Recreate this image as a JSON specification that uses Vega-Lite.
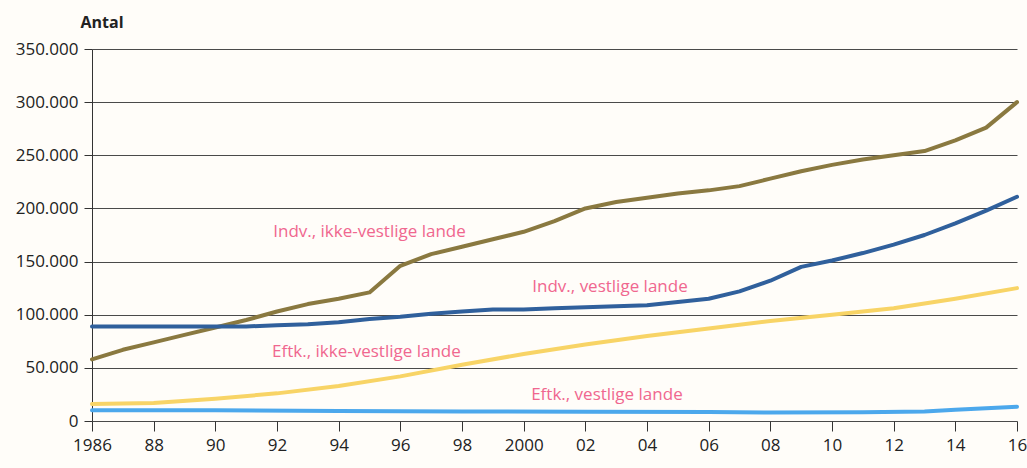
{
  "$schema": "https://vega.github.io/schema/vega-lite/v6.json",
  "autosize": "none",
  "width": 925,
  "height": 372,
  "padding": {"left": 92, "top": 49, "right": 10, "bottom": 47},
  "background": "#fffdf9",
  "config": {
    "locale": {"number": {"decimal": ",", "thousands": ".", "grouping": [3], "currency": ["", " kr."]}},
    "view": {"stroke": null},
    "font": "Open Sans, sans-serif"
  },
  "datasets": {
    "lines": [
      {"year": 1986, "value": 58000, "series": "Indv., ikke-vestlige lande"},
      {"year": 1987, "value": 67000, "series": "Indv., ikke-vestlige lande"},
      {"year": 1988, "value": 74000, "series": "Indv., ikke-vestlige lande"},
      {"year": 1989, "value": 81000, "series": "Indv., ikke-vestlige lande"},
      {"year": 1990, "value": 88000, "series": "Indv., ikke-vestlige lande"},
      {"year": 1991, "value": 95000, "series": "Indv., ikke-vestlige lande"},
      {"year": 1992, "value": 103000, "series": "Indv., ikke-vestlige lande"},
      {"year": 1993, "value": 110000, "series": "Indv., ikke-vestlige lande"},
      {"year": 1994, "value": 115000, "series": "Indv., ikke-vestlige lande"},
      {"year": 1995, "value": 121000, "series": "Indv., ikke-vestlige lande"},
      {"year": 1996, "value": 146000, "series": "Indv., ikke-vestlige lande"},
      {"year": 1997, "value": 157000, "series": "Indv., ikke-vestlige lande"},
      {"year": 1998, "value": 164000, "series": "Indv., ikke-vestlige lande"},
      {"year": 1999, "value": 171000, "series": "Indv., ikke-vestlige lande"},
      {"year": 2000, "value": 178000, "series": "Indv., ikke-vestlige lande"},
      {"year": 2001, "value": 188000, "series": "Indv., ikke-vestlige lande"},
      {"year": 2002, "value": 200000, "series": "Indv., ikke-vestlige lande"},
      {"year": 2003, "value": 206000, "series": "Indv., ikke-vestlige lande"},
      {"year": 2004, "value": 210000, "series": "Indv., ikke-vestlige lande"},
      {"year": 2005, "value": 214000, "series": "Indv., ikke-vestlige lande"},
      {"year": 2006, "value": 217000, "series": "Indv., ikke-vestlige lande"},
      {"year": 2007, "value": 221000, "series": "Indv., ikke-vestlige lande"},
      {"year": 2008, "value": 228000, "series": "Indv., ikke-vestlige lande"},
      {"year": 2009, "value": 235000, "series": "Indv., ikke-vestlige lande"},
      {"year": 2010, "value": 241000, "series": "Indv., ikke-vestlige lande"},
      {"year": 2011, "value": 246000, "series": "Indv., ikke-vestlige lande"},
      {"year": 2012, "value": 250000, "series": "Indv., ikke-vestlige lande"},
      {"year": 2013, "value": 254000, "series": "Indv., ikke-vestlige lande"},
      {"year": 2014, "value": 264000, "series": "Indv., ikke-vestlige lande"},
      {"year": 2015, "value": 276000, "series": "Indv., ikke-vestlige lande"},
      {"year": 2016, "value": 300000, "series": "Indv., ikke-vestlige lande"},

      {"year": 1986, "value": 89000, "series": "Indv., vestlige lande"},
      {"year": 1988, "value": 89000, "series": "Indv., vestlige lande"},
      {"year": 1990, "value": 89000, "series": "Indv., vestlige lande"},
      {"year": 1991, "value": 89000, "series": "Indv., vestlige lande"},
      {"year": 1992, "value": 90000, "series": "Indv., vestlige lande"},
      {"year": 1993, "value": 91000, "series": "Indv., vestlige lande"},
      {"year": 1994, "value": 93000, "series": "Indv., vestlige lande"},
      {"year": 1995, "value": 96000, "series": "Indv., vestlige lande"},
      {"year": 1996, "value": 98000, "series": "Indv., vestlige lande"},
      {"year": 1997, "value": 101000, "series": "Indv., vestlige lande"},
      {"year": 1998, "value": 103000, "series": "Indv., vestlige lande"},
      {"year": 1999, "value": 105000, "series": "Indv., vestlige lande"},
      {"year": 2000, "value": 105000, "series": "Indv., vestlige lande"},
      {"year": 2001, "value": 106000, "series": "Indv., vestlige lande"},
      {"year": 2002, "value": 107000, "series": "Indv., vestlige lande"},
      {"year": 2003, "value": 108000, "series": "Indv., vestlige lande"},
      {"year": 2004, "value": 109000, "series": "Indv., vestlige lande"},
      {"year": 2005, "value": 112000, "series": "Indv., vestlige lande"},
      {"year": 2006, "value": 115000, "series": "Indv., vestlige lande"},
      {"year": 2007, "value": 122000, "series": "Indv., vestlige lande"},
      {"year": 2008, "value": 132000, "series": "Indv., vestlige lande"},
      {"year": 2009, "value": 145000, "series": "Indv., vestlige lande"},
      {"year": 2010, "value": 151000, "series": "Indv., vestlige lande"},
      {"year": 2011, "value": 158000, "series": "Indv., vestlige lande"},
      {"year": 2012, "value": 166000, "series": "Indv., vestlige lande"},
      {"year": 2013, "value": 175000, "series": "Indv., vestlige lande"},
      {"year": 2014, "value": 186000, "series": "Indv., vestlige lande"},
      {"year": 2015, "value": 198000, "series": "Indv., vestlige lande"},
      {"year": 2016, "value": 211000, "series": "Indv., vestlige lande"},

      {"year": 1986, "value": 16000, "series": "Eftk., ikke-vestlige lande"},
      {"year": 1988, "value": 17000, "series": "Eftk., ikke-vestlige lande"},
      {"year": 1990, "value": 21000, "series": "Eftk., ikke-vestlige lande"},
      {"year": 1992, "value": 26000, "series": "Eftk., ikke-vestlige lande"},
      {"year": 1994, "value": 33000, "series": "Eftk., ikke-vestlige lande"},
      {"year": 1996, "value": 42000, "series": "Eftk., ikke-vestlige lande"},
      {"year": 1998, "value": 53000, "series": "Eftk., ikke-vestlige lande"},
      {"year": 2000, "value": 63000, "series": "Eftk., ikke-vestlige lande"},
      {"year": 2002, "value": 72000, "series": "Eftk., ikke-vestlige lande"},
      {"year": 2004, "value": 80000, "series": "Eftk., ikke-vestlige lande"},
      {"year": 2006, "value": 87000, "series": "Eftk., ikke-vestlige lande"},
      {"year": 2008, "value": 94000, "series": "Eftk., ikke-vestlige lande"},
      {"year": 2010, "value": 100000, "series": "Eftk., ikke-vestlige lande"},
      {"year": 2012, "value": 106000, "series": "Eftk., ikke-vestlige lande"},
      {"year": 2014, "value": 115000, "series": "Eftk., ikke-vestlige lande"},
      {"year": 2016, "value": 125000, "series": "Eftk., ikke-vestlige lande"},

      {"year": 1986, "value": 10000, "series": "Eftk., vestlige lande"},
      {"year": 1990, "value": 10000, "series": "Eftk., vestlige lande"},
      {"year": 1994, "value": 9500, "series": "Eftk., vestlige lande"},
      {"year": 1998, "value": 9000, "series": "Eftk., vestlige lande"},
      {"year": 2002, "value": 8800, "series": "Eftk., vestlige lande"},
      {"year": 2006, "value": 8500, "series": "Eftk., vestlige lande"},
      {"year": 2008, "value": 8000, "series": "Eftk., vestlige lande"},
      {"year": 2011, "value": 8300, "series": "Eftk., vestlige lande"},
      {"year": 2013, "value": 9000, "series": "Eftk., vestlige lande"},
      {"year": 2014, "value": 10500, "series": "Eftk., vestlige lande"},
      {"year": 2016, "value": 13500, "series": "Eftk., vestlige lande"}
    ],
    "labels": [
      {"year": 1995.0, "value": 178000, "text": "Indv., ikke-vestlige lande"},
      {"year": 2002.8, "value": 126000, "text": "Indv., vestlige lande"},
      {"year": 1994.9, "value": 65000, "text": "Eftk., ikke-vestlige lande"},
      {"year": 2002.7, "value": 24000, "text": "Eftk., vestlige lande"}
    ]
  },
  "layer": [
    {
      "data": {"name": "lines"},
      "mark": {"type": "line", "strokeWidth": 4, "strokeCap": "round", "strokeJoin": "round"},
      "encoding": {
        "x": {
          "field": "year", "type": "quantitative",
          "scale": {"domain": [1986, 2016], "nice": false, "zero": false},
          "axis": {
            "title": null,
            "values": [1986, 1988, 1990, 1992, 1994, 1996, 1998, 2000, 2002, 2004, 2006, 2008, 2010, 2012, 2014, 2016],
            "labelExpr": "(datum.value == 1986 || datum.value == 2000) ? toString(datum.value) : slice(toString(datum.value), 2)",
            "labelFontSize": 17, "labelColor": "#222", "labelPadding": 6,
            "domain": false, "tickColor": "#333", "tickSize": 10,
            "grid": false, "labelFlush": false
          }
        },
        "y": {
          "field": "value", "type": "quantitative",
          "scale": {"domain": [0, 350000], "nice": false},
          "axis": {
            "title": "Antal", "titleAngle": 0, "titleAlign": "left", "titleBaseline": "bottom",
            "titleX": -12, "titleY": -19, "titleFontSize": 16, "titleFontWeight": "bold", "titleColor": "#222",
            "values": [0, 50000, 100000, 150000, 200000, 250000, 300000, 350000],
            "format": ",d",
            "labelFontSize": 17, "labelColor": "#222", "labelPadding": 6,
            "domainColor": "#333", "domainWidth": 1,
            "tickColor": "#333", "tickSize": 8,
            "grid": true, "gridColor": "#4a4a4a", "gridWidth": 1
          }
        },
        "color": {
          "field": "series", "type": "nominal", "legend": null,
          "scale": {
            "domain": ["Indv., ikke-vestlige lande", "Indv., vestlige lande", "Eftk., ikke-vestlige lande", "Eftk., vestlige lande"],
            "range": ["#8a7940", "#30609c", "#f8d466", "#4ca8ec"]
          }
        }
      }
    },
    {
      "data": {"name": "labels"},
      "mark": {"type": "text", "fontSize": 17, "color": "#f0678f", "align": "center", "baseline": "middle"},
      "encoding": {
        "x": {"field": "year", "type": "quantitative"},
        "y": {"field": "value", "type": "quantitative"},
        "text": {"field": "text"}
      }
    }
  ]
}
